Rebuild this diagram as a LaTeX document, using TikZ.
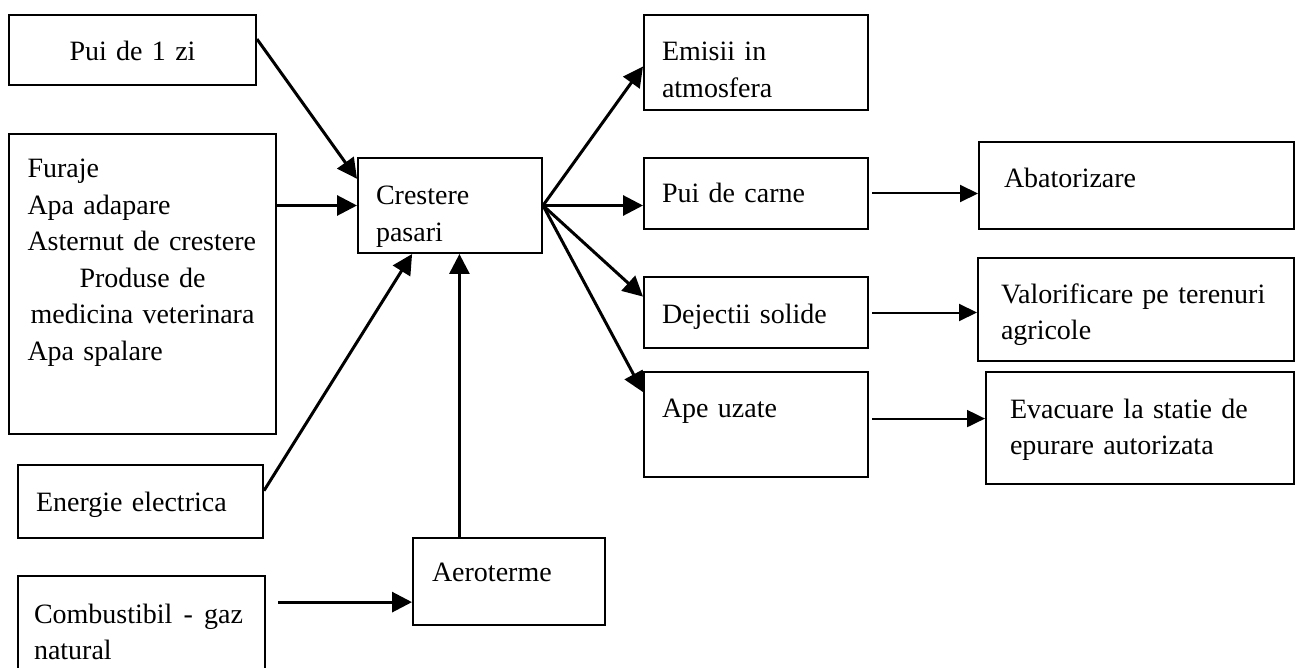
\documentclass[tikz,border=0pt]{standalone}
\usepackage{fontspec}
\setmainfont{Liberation Serif}
\usetikzlibrary{arrows.meta}

\begin{document}
\begin{tikzpicture}[x=1pt, y=-1pt,
    bloc/.style={draw, line width=2pt, anchor=north west, inner ysep=0pt,
      align=left, font=\fontsize{28}{36.5}\selectfont},
    gros/.style={line width=3pt, -{Triangle[length=20pt,width=20pt]}},
    subtire/.style={line width=2pt, -{Triangle[length=18pt,width=17pt]}}]
  \useasboundingbox (0,0) rectangle (1295,668);
  % intrari
  \node[bloc, align=center, inner xsep=0pt, text width=247pt,
    text height=46pt, text depth=24pt] (puizi) at (8,14) {Pui de 1 zi};
  \node[bloc, inner xsep=18.5pt, text width=230pt,
    text height=44pt, text depth=256pt] (furaje) at (8,133)
    {Furaje\\Apa adapare\\Asternut de crestere\\
     \makebox[230pt]{Produse de}\\
     \makebox[230pt]{medicina veterinara}\\Apa spalare};
  \node[bloc, inner xsep=18pt, text width=209pt,
    text height=46pt, text depth=27pt] (energie) at (17,464) {Energie electrica};
  \node[bloc, inner xsep=16pt, text width=215pt,
    text height=47pt, text depth=100pt] (combust) at (17,575)
    {Combustibil\hspace{0.4em}-\hspace{0.4em}gaz\\natural};
  \node[bloc, inner xsep=19pt, text width=154pt,
    text height=43pt, text depth=44pt] (aeroterme) at (412,537) {Aeroterme};
  % centru
  \node[bloc, inner xsep=18pt, text width=148pt,
    text height=47pt, text depth=48pt] (crestere) at (357,157) {Crestere\\pasari};
  % iesiri
  \node[bloc, inner xsep=18pt, text width=188pt,
    text height=46pt, text depth=49pt] (emisii) at (643,14) {Emisii in\\atmosfera};
  \node[bloc, inner xsep=18pt, text width=188pt,
    text height=45pt, text depth=26pt] (puicarne) at (643,157) {Pui de carne};
  \node[bloc, inner xsep=18pt, text width=188pt,
    text height=46pt, text depth=25pt] (dejectii) at (643,276) {Dejectii solide};
  \node[bloc, inner xsep=18pt, text width=188pt,
    text height=45pt, text depth=60pt] (apeuzate) at (643,371) {Ape uzate};
  \node[bloc, inner xsep=25pt, text width=265pt,
    text height=46pt, text depth=41pt] (abator) at (978,141) {Abatorizare};
  \node[bloc, inner xsep=23pt, text width=270pt,
    text height=45pt, text depth=58pt] (valorif) at (977,257)
    {Valorificare pe terenuri\\agricole};
  \node[bloc, inner xsep=24pt, text width=260pt,
    text height=46pt, text depth=66pt] (evacuare) at (985,371)
    {Evacuare la statie de\\epurare autorizata};

  \draw[gros] (puizi.5) -- (crestere.164);
  \draw[gros] (furaje.east |- crestere.west) -- (crestere.west);
  \draw[gros] (energie.5) -- (crestere.232);
  \draw[gros] (aeroterme.north -| crestere.281) -- (crestere.281);
  \draw[gros] ([xshift=12pt]combust.east |- aeroterme.192.6) -- (aeroterme.192.6);

  \draw[gros] (crestere.east) -- (emisii.182);
  \draw[gros] (crestere.east) -- (crestere.east -| puicarne.west);
  \draw[gros] (crestere.east) -- (dejectii.172.6);
  \draw[gros] (crestere.east) -- (apeuzate.164);

  \draw[subtire] ([xshift=3pt]puicarne.east) -- (puicarne.east -| abator.west);
  \draw[subtire] ([xshift=3pt]dejectii.east) -- (dejectii.east -| valorif.west);
  \draw[subtire] ([xshift=3pt]apeuzate.3.8) -- (apeuzate.3.8 -| evacuare.west);
\end{tikzpicture}
\end{document}
